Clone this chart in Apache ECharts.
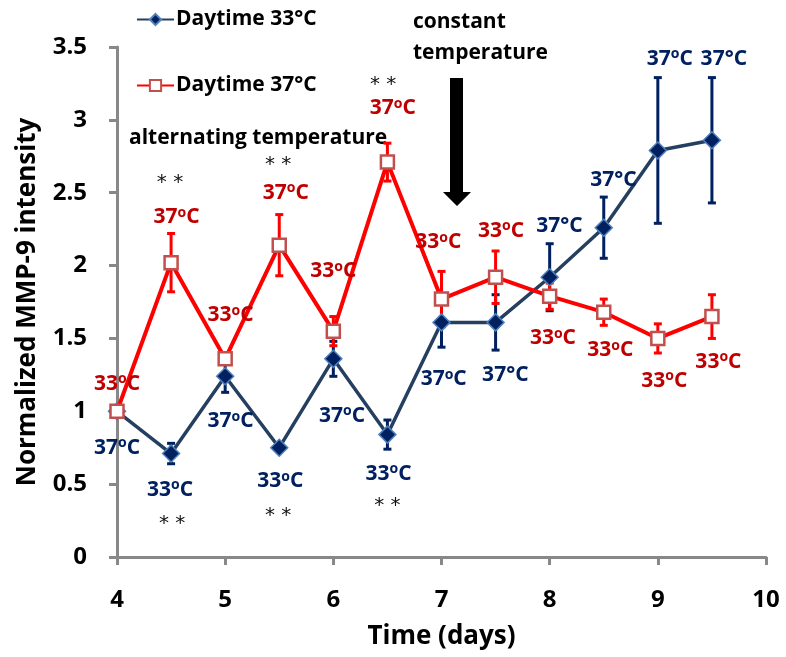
<!DOCTYPE html>
<html>
<head>
<meta charset="utf-8">
<script src="https://cdn.jsdelivr.net/npm/echarts@6/dist/echarts.min.js"></script>
<style>
  html, body { margin: 0; padding: 0; background: #fff; }
  #main { width: 786px; height: 657px; }
</style>
</head>
<body>
<div id="main"></div>
<script>
// time points (days)
var days = [4, 4.5, 5, 5.5, 6, 6.5, 7, 7.5, 8, 8.5, 9, 9.5];
// Daytime 33°C
var day33 = [1.0, 0.71, 1.24, 0.75, 1.36, 0.84, 1.61, 1.61, 1.92, 2.26, 2.79, 2.86];
var day33Err = [0, 0.07, 0.11, 0.02, 0.12, 0.1, 0.17, 0.19, 0.23, 0.21, 0.5, 0.43];
// Daytime 37°C
var day37 = [1.0, 2.02, 1.36, 2.14, 1.55, 2.71, 1.77, 1.92, 1.79, 1.68, 1.50, 1.65];
var day37Err = [0, 0.2, 0.03, 0.21, 0.1, 0.13, 0.19, 0.18, 0.09, 0.09, 0.1, 0.15];

var yTicks = [0, 0.5, 1, 1.5, 2, 2.5, 3, 3.5];

// temperature notes: [x, y, text]  ("o" = superscript o, "d" = degree sign)
var redNotes = [
  [4.0, 1.19, '33o'], [4.55, 2.33, '37o'], [5.05, 1.66, '33o'], [5.56, 2.5, '37o'],
  [6.0, 1.96, '33o'], [6.55, 3.08, '37o'], [6.97, 2.16, '33o'], [7.55, 2.24, '33o'],
  [8.03, 1.50, '33o'], [8.56, 1.42, '33o'], [9.06, 1.21, '33o'], [9.56, 1.34, '33o']
];
var blueNotes = [
  [4.0, 0.75, '37o'], [4.49, 0.46, '33o'], [5.05, 0.93, '37o'], [5.51, 0.52, '33o'],
  [6.08, 0.97, '37o'], [6.51, 0.57, '33o'], [7.02, 1.22, '37o'], [7.59, 1.25, '37d'],
  [8.09, 2.27, '37d'], [8.59, 2.59, '37d'], [9.11, 3.42, '37o'], [9.61, 3.42, '37d']
];
var starNotes = [
  [4.49, 2.57], [5.49, 2.69], [6.46, 3.24],
  [4.51, 0.23], [5.49, 0.28], [6.5, 0.35]
];

var FONT = 'Open Sans';
var NAVY = '#002060';
var DARKRED = '#C00000';

function pairs(xs, ys) {
  return xs.map(function (x, i) { return [x, ys[i]]; });
}
function errData(xs, ys, es) {
  return xs.map(function (x, i) { return [x, ys[i] - es[i], ys[i] + es[i]]; });
}
function noteFmt(p) {
  var t = p.data[2];
  if (t.charAt(2) === 'o') return '{n|' + t.slice(0, 2) + '}{o|o}{n|C}';
  return '{n|' + t.slice(0, 2) + '°C}';
}
function noteRich(color) {
  return {
    n: { fontFamily: FONT, fontWeight: 'bold', fontSize: 21, color: color, lineHeight: 23 },
    o: { fontFamily: FONT, fontWeight: 'bold', fontSize: 14, color: color, lineHeight: 14, verticalAlign: 'top' }
  };
}
function errorBarSeries(name, data, color) {
  return {
    type: 'custom',
    name: name + ' err',
    z: 2,
    silent: true,
    data: data,
    renderItem: function (params, api) {
      var x = api.value(0);
      var lo = api.coord([x, api.value(1)]);
      var hi = api.coord([x, api.value(2)]);
      var w = 4;
      var st = { stroke: color, lineWidth: 3 };
      return {
        type: 'group',
        children: [
          { type: 'line', shape: { x1: lo[0], y1: lo[1], x2: hi[0], y2: hi[1] }, style: st },
          { type: 'line', shape: { x1: lo[0] - w, y1: lo[1], x2: lo[0] + w, y2: lo[1] }, style: st },
          { type: 'line', shape: { x1: hi[0] - w, y1: hi[1], x2: hi[0] + w, y2: hi[1] }, style: st }
        ]
      };
    }
  };
}
function noteSeries(name, data, color) {
  return {
    type: 'scatter',
    name: name,
    data: data,
    symbolSize: 0,
    silent: true,
    z: 5,
    itemStyle: { opacity: 1 },
    label: {
      show: true, position: 'inside', opacity: 1, formatter: noteFmt, rich: noteRich(color)
    }
  };
}

var myChart = echarts.init(document.getElementById('main'));

var option = {
  animation: false,
  backgroundColor: '#ffffff',
  grid: { left: 117, right: 20, top: 47, bottom: 100, containLabel: false },
  legend: {
    data: ['Daytime 33°C', 'Daytime 37°C'],
    orient: 'vertical',
    left: 131,
    top: 4,
    itemGap: 45,
    itemWidth: 37,
    itemHeight: 14,
    textStyle: { fontFamily: FONT, fontWeight: 'bold', fontSize: 21, color: '#000', padding: [0, 0, 0, -3] }
  },
  xAxis: {
    type: 'value',
    min: 4, max: 10, interval: 1,
    name: 'Time (days)',
    nameLocation: 'middle',
    nameGap: 67,
    nameTextStyle: { fontFamily: FONT, fontWeight: 'bold', fontSize: 26, color: '#000' },
    axisLine: { lineStyle: { color: '#888', width: 3 } },
    axisTick: { show: true, length: 8, lineStyle: { color: '#888', width: 3 } },
    axisLabel: { fontFamily: FONT, fontWeight: 'bold', fontSize: 24, color: '#000', margin: 31 },
    splitLine: { show: false }
  },
  yAxis: {
    type: 'value',
    min: 0, max: 3.5, interval: 0.5,
    name: 'Normalized MMP-9 intensity',
    nameLocation: 'middle',
    nameGap: 76,
    nameTextStyle: { fontFamily: FONT, fontWeight: 'bold', fontSize: 26, color: '#000' },
    axisLine: { show: true, lineStyle: { color: '#888', width: 3 } },
    axisTick: { show: true, length: 8, lineStyle: { color: '#888', width: 3 } },
    axisLabel: {
      fontFamily: FONT, fontWeight: 'bold', fontSize: 24, color: '#000', margin: 30,
      formatter: function (v) { return yTicks.indexOf(v) >= 0 ? String(v) : ''; }
    },
    splitLine: { show: false }
  },
  series: [
    errorBarSeries('Daytime 33°C', errData(days, day33, day33Err), NAVY),
    errorBarSeries('Daytime 37°C', errData(days, day37, day37Err), '#FF0000'),
    {
      name: 'Daytime 33°C',
      type: 'line',
      data: pairs(days, day33),
      z: 3,
      symbol: 'diamond',
      symbolSize: 17,
      lineStyle: { color: '#243F60', width: 3.5 },
      itemStyle: { color: NAVY, borderColor: '#4F81BD', borderWidth: 1.5 }
    },
    {
      name: 'Daytime 37°C',
      type: 'line',
      data: pairs(days, day37),
      z: 4,
      symbol: 'rect',
      symbolSize: 13,
      lineStyle: { color: '#FF0000', width: 4 },
      itemStyle: { color: '#ffffff', borderColor: '#C0504D', borderWidth: 2.5 }
    },
    noteSeries('red notes', redNotes, DARKRED),
    noteSeries('blue notes', blueNotes, NAVY),
    {
      type: 'scatter',
      name: 'stars',
      data: starNotes,
      symbolSize: 0,
      silent: true,
      itemStyle: { opacity: 1 },
      label: {
        show: true, position: 'inside', opacity: 1, formatter: '* *',
        fontFamily: 'DejaVu Sans', fontSize: 20, color: '#111'
      }
    }
  ],
  graphic: [
    {
      type: 'text', x: 129, y: 138,
      style: { text: 'alternating temperature', verticalAlign: 'middle', fontFamily: FONT, fontWeight: 'bold', fontSize: 21, fill: '#000' }
    },
    {
      type: 'text', x: 413, y: 22,
      style: { text: 'constant', verticalAlign: 'middle', fontFamily: FONT, fontWeight: 'bold', fontSize: 21, fill: '#000' }
    },
    {
      type: 'text', x: 413, y: 53,
      style: { text: 'temperature', verticalAlign: 'middle', fontFamily: FONT, fontWeight: 'bold', fontSize: 21, fill: '#000' }
    },
    {
      type: 'polygon',
      shape: { points: [[450, 78], [463, 78], [463, 192], [471, 192], [457, 206], [443, 192], [450, 192]] },
      style: { fill: '#000' }
    }
  ]
};

myChart.setOption(option);
</script>
</body>
</html>
